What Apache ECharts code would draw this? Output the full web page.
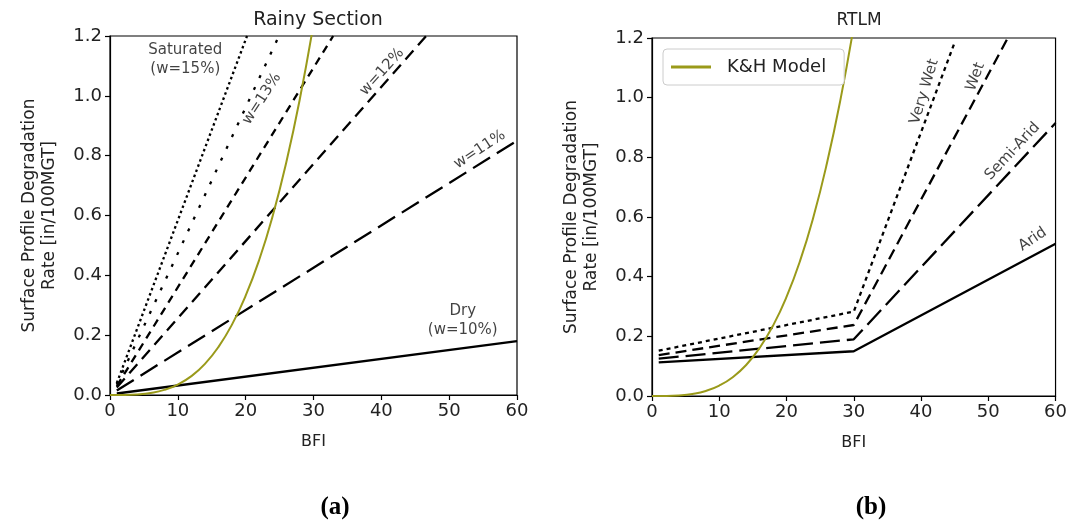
<!DOCTYPE html>
<html>
<head>
<meta charset="utf-8">
<script src="https://cdn.jsdelivr.net/npm/echarts@6/dist/echarts.min.js"></script>
<style>html,body{margin:0;padding:0;background:#fff;}#c{width:1070px;height:525px;}</style>
</head>
<body>
<div id="c"></div>
<script>
// ---- Data ----
// Left panel: Rainy Section, [BFI, rate]
const dry = [[1, 0.005], [60, 0.18]];
const w11 = [[1, 0.015], [60, 0.85]];
const w12 = [[1, 0.025], [46.6, 1.2]];
const w13 = [[1, 0.03], [32.9, 1.2]];
const w14 = [[1, 0.035], [24.9, 1.2]];
const w15 = [[1, 0.04], [20.2, 1.2]];
// K&H model curve, read at these BFI values
const khBFI = [0, 2, 4, 6, 8, 10, 12, 14, 16, 18, 20, 22, 24, 26, 28, 30];
const khRate = [0, 0.0002, 0.002, 0.007, 0.017, 0.035, 0.063, 0.104, 0.161, 0.236, 0.332, 0.452, 0.600, 0.779, 0.991, 1.24];
// Right panel: RTLM
const arid = [[1, 0.113], [30, 0.15], [60, 0.51]];
const semiArid = [[1, 0.125], [30, 0.19], [60, 0.915]];
const wet = [[1, 0.137], [30, 0.238], [52.9, 1.2]];
const veryWet = [[1, 0.152], [30, 0.283], [45, 1.185]];
// Axis ticks
const xTicks = [0, 10, 20, 30, 40, 50, 60];
const yTicks = [0, 0.2, 0.4, 0.6, 0.8, 1.0, 1.2];
// Annotation labels [BFI, rate, text, angle]
const leftLabels = [
  [11.1, 1.12, 'Saturated\n(w=15%)', 0],
  [22.4, 0.99, 'w=13%', 57],
  [40.1, 1.08, 'w=12%', 48],
  [54.5, 0.82, 'w=11%', 33],
  [52.0, 0.25, 'Dry\n(w=10%)', 0]
];
const rightLabels = [
  [40.5, 1.02, 'Very Wet', 73],
  [48.1, 1.07, 'Wet', 70],
  [53.6, 0.82, 'Semi-Arid', 47],
  [56.6, 0.525, 'Arid', 34]
];

const khData = khBFI.map((x, i) => [x, khRate[i]]);
const FONT = 'DejaVu Sans';
const TXT = '#222222';
const OLIVE = '#9a9a1a';

function xAxis(idx) {
  return {
    gridIndex: idx, type: 'value', min: 0, max: 60, interval: 10,
    name: 'BFI', nameLocation: 'middle', nameGap: 39,
    nameTextStyle: { fontFamily: FONT, fontSize: 16, color: TXT },
    axisLine: { show: true, onZero: false, lineStyle: { color: '#000', width: 1.2 } },
    axisTick: { show: true, length: 5, lineStyle: { color: '#000', width: 1.2 } },
    axisLabel: { fontFamily: FONT, fontSize: 18, color: TXT, margin: 7,
      formatter: v => xTicks.includes(v) ? String(v) : '' },
    splitLine: { show: false }
  };
}
function yAxis(idx) {
  return {
    gridIndex: idx, type: 'value', min: 0, max: 1.2, interval: 0.2,
    name: 'Surface Profile Degradation\nRate [in/100MGT]', nameLocation: 'middle', nameGap: 50,
    nameTextStyle: { fontFamily: FONT, fontSize: 17, color: TXT, lineHeight: 20 },
    axisLine: { show: true, onZero: false, lineStyle: { color: '#000', width: 1.2 } },
    axisTick: { show: true, length: 5, lineStyle: { color: '#000', width: 1.2 } },
    axisLabel: { fontFamily: FONT, fontSize: 18, color: TXT, margin: 8,
      formatter: v => { const t = yTicks.find(k => Math.abs(k - v) < 1e-6); return t === undefined ? '' : t.toFixed(1); } },
    splitLine: { show: false }
  };
}
function line(name, data, idx, dash, color, width) {
  return {
    name: name, type: 'line', xAxisIndex: idx, yAxisIndex: idx, data: data,
    showSymbol: false, symbol: 'none', silent: true, clip: true,
    itemStyle: { color: color || '#000' },
    lineStyle: { color: color || '#000', width: width || 2.3, type: dash || 'solid', cap: 'butt' },
    z: 3
  };
}
function labels(arr, idx) {
  return {
    type: 'scatter', xAxisIndex: idx, yAxisIndex: idx, symbolSize: 0, silent: true,
    data: arr.map(a => ({ value: [a[0], a[1]], label: { formatter: a[2], rotate: a[3] } })),
    label: { show: true, position: 'inside', fontFamily: FONT, fontSize: 15, color: '#111111',
      align: 'center', verticalAlign: 'middle', lineHeight: 19 },
    z: 5
  };
}

const chart = echarts.init(document.getElementById('c'), null, { renderer: 'canvas' });
chart.setOption({
  backgroundColor: '#fff',
  animation: false,
  title: [
    { text: 'Rainy Section', left: 313, top: 6, textAlign: 'center',
      textStyle: { fontFamily: FONT, fontSize: 19, fontWeight: 'normal', color: TXT } },
    { text: 'RTLM', left: 854, top: 7, textAlign: 'center',
      textStyle: { fontFamily: FONT, fontSize: 17, fontWeight: 'normal', color: TXT } },
    { text: '(a)', left: 330, top: 490, textAlign: 'center',
      textStyle: { fontFamily: 'Liberation Serif', fontSize: 25, fontWeight: 'bold', color: '#000' } },
    { text: '(b)', left: 866, top: 490, textAlign: 'center',
      textStyle: { fontFamily: 'Liberation Serif', fontSize: 25, fontWeight: 'bold', color: '#000' } }
  ],
  grid: [
    { left: 110, top: 36, width: 407, height: 359, show: true, borderColor: '#000', borderWidth: 1.2, backgroundColor: 'transparent' },
    { left: 652, top: 38, width: 404, height: 358, show: true, borderColor: '#000', borderWidth: 1.2, backgroundColor: 'transparent' }
  ],
  legend: {
    data: [{ name: 'K&H Model', icon: 'path://M0,0 L40,0 L40,3 L0,3 Z', itemStyle: { color: OLIVE } }],
    left: 663, top: 49, padding: [9, 18, 9, 8], itemWidth: 42, itemHeight: 3, itemGap: 10,
    borderColor: '#cccccc', borderWidth: 1, borderRadius: 4, backgroundColor: '#fff',
    textStyle: { fontFamily: FONT, fontSize: 18, color: TXT, padding: [0, 0, 0, 10] },
    selectedMode: false, z: 10
  },
  xAxis: [xAxis(0), xAxis(1)],
  yAxis: [yAxis(0), yAxis(1)],
  series: [
    line('Dry', dry, 0, 'solid'),
    line('w=11%', w11, 0, [20, 8]),
    line('w=12%', w12, 0, [12, 7]),
    line('w=13%', w13, 0, [8, 6]),
    line('w=14%', w14, 0, [3, 10]),
    line('w=15%', w15, 0, [2.5, 3]),
    Object.assign(line('K&H Model', khData, 0, 'solid', OLIVE, 2), { smooth: true }),
    line('Arid', arid, 1, 'solid'),
    line('Semi-Arid', semiArid, 1, [20, 7]),
    line('Wet', wet, 1, [11, 6]),
    line('Very Wet', veryWet, 1, [4, 4]),
    Object.assign(line('K&H Model', khData, 1, 'solid', OLIVE, 2), { smooth: true }),
    labels(leftLabels, 0),
    labels(rightLabels, 1)
  ]
});
</script>
</body>
</html>
